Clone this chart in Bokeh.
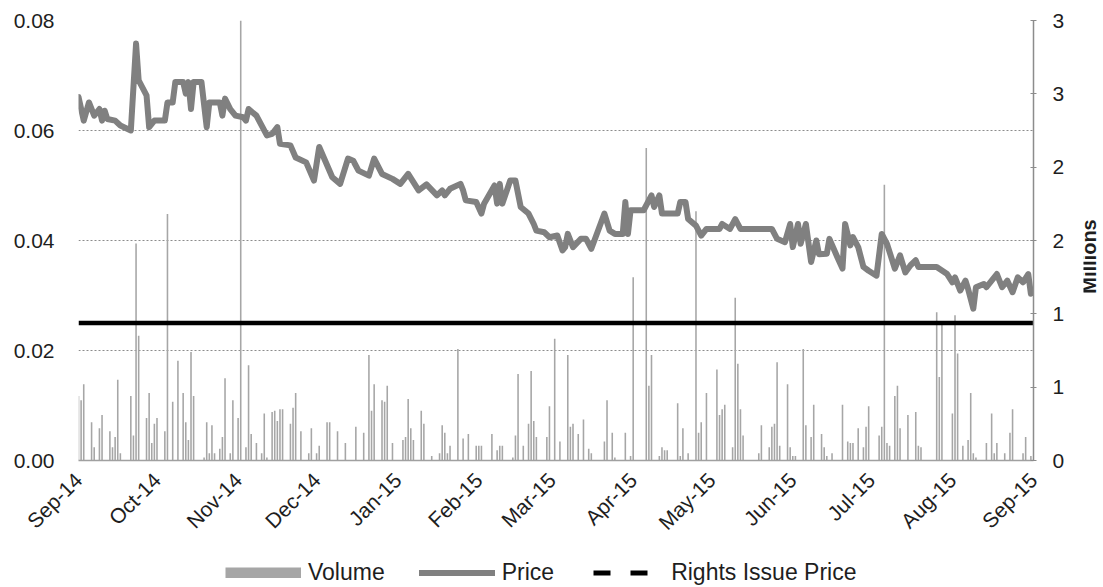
import math
import pandas as pd
from bokeh.plotting import figure
from bokeh.layouts import column, row
from bokeh.models import (Range1d, LinearAxis, FixedTicker, NumeralTickFormatter, Legend,
                          LegendItem, MonthsTicker, DatetimeTickFormatter, ColumnDataSource, Label)
from bokeh.embed import file_html
from bokeh.resources import INLINE

# ---------------- data ----------------
price_dates = [
    "2014-09-01", "2014-09-03", "2014-09-05", "2014-09-07", "2014-09-09", "2014-09-10", "2014-09-11",
    "2014-09-12", "2014-09-15", "2014-09-17", "2014-09-21", "2014-09-23", "2014-09-24", "2014-09-27",
    "2014-09-28", "2014-09-30", "2014-10-04", "2014-10-05", "2014-10-07", "2014-10-08", "2014-10-11",
    "2014-10-12", "2014-10-13", "2014-10-14", "2014-10-15", "2014-10-18", "2014-10-20", "2014-10-21",
    "2014-10-25", "2014-10-26", "2014-10-27", "2014-10-29", "2014-10-31", "2014-11-03", "2014-11-04",
    "2014-11-05", "2014-11-08", "2014-11-12", "2014-11-14", "2014-11-16", "2014-11-17", "2014-11-21",
    "2014-11-23", "2014-11-27", "2014-11-30", "2014-12-02", "2014-12-07", "2014-12-10", "2014-12-13",
    "2014-12-15", "2014-12-17", "2014-12-21", "2014-12-23", "2014-12-26", "2014-12-30", "2015-01-02",
    "2015-01-05", "2015-01-09", "2015-01-12", "2015-01-16", "2015-01-18", "2015-01-19", "2015-01-21",
    "2015-01-25", "2015-01-26", "2015-01-27", "2015-01-31", "2015-02-02", "2015-02-03", "2015-02-07",
    "2015-02-08", "2015-02-09", "2015-02-10", "2015-02-13", "2015-02-15", "2015-02-17", "2015-02-20",
    "2015-02-22", "2015-02-23", "2015-02-26", "2015-02-28", "2015-03-03", "2015-03-05", "2015-03-06",
    "2015-03-07", "2015-03-09", "2015-03-12", "2015-03-14", "2015-03-16", "2015-03-21", "2015-03-23",
    "2015-03-25", "2015-03-28", "2015-03-29", "2015-03-30", "2015-03-31", "2015-04-05", "2015-04-08",
    "2015-04-09", "2015-04-11", "2015-04-12", "2015-04-18", "2015-04-19", "2015-04-21", "2015-04-22",
    "2015-04-25", "2015-04-27", "2015-04-29", "2015-05-04", "2015-05-05", "2015-05-08", "2015-05-10",
    "2015-05-12", "2015-05-24", "2015-05-26", "2015-05-29", "2015-05-31", "2015-06-01", "2015-06-03",
    "2015-06-04", "2015-06-06", "2015-06-08", "2015-06-10", "2015-06-11", "2015-06-14", "2015-06-15",
    "2015-06-18", "2015-06-20", "2015-06-21", "2015-06-23", "2015-06-24", "2015-06-26", "2015-06-28",
    "2015-06-30", "2015-07-03", "2015-07-05", "2015-07-07", "2015-07-10", "2015-07-12", "2015-07-14",
    "2015-07-16", "2015-07-18", "2015-07-19", "2015-07-26", "2015-07-30", "2015-08-01", "2015-08-02",
    "2015-08-04", "2015-08-06", "2015-08-07", "2015-08-09", "2015-08-10", "2015-08-13", "2015-08-14",
    "2015-08-16", "2015-08-18", "2015-08-20", "2015-08-22", "2015-08-24", "2015-08-26", "2015-08-28",
    "2015-08-30", "2015-08-31",
]
price_values = [
    0.0661, 0.0618, 0.0651, 0.0627, 0.0639, 0.0618, 0.0636,
    0.0621, 0.0618, 0.0609, 0.0600, 0.0758, 0.0691, 0.0664,
    0.0606, 0.0618, 0.0618, 0.0651, 0.0651, 0.0688, 0.0688,
    0.0667, 0.0688, 0.0639, 0.0688, 0.0688, 0.0606, 0.0651,
    0.0651, 0.0627, 0.0658, 0.0639, 0.0627, 0.0624, 0.0618,
    0.0639, 0.0627, 0.0591, 0.0594, 0.0606, 0.0576, 0.0573,
    0.0551, 0.0542, 0.0509, 0.0570, 0.0515, 0.0503, 0.0549,
    0.0545, 0.0527, 0.0518, 0.0549, 0.0521, 0.0512, 0.0503,
    0.0521, 0.0491, 0.0502, 0.0482, 0.0491, 0.0482, 0.0494,
    0.0503, 0.0491, 0.0473, 0.0470, 0.0449, 0.0467, 0.0500,
    0.0467, 0.0503, 0.0467, 0.0509, 0.0509, 0.0461, 0.0449,
    0.0430, 0.0418, 0.0415, 0.0406, 0.0409, 0.0382, 0.0388,
    0.0412, 0.0388, 0.0403, 0.0403, 0.0385, 0.0449, 0.0418,
    0.0412, 0.0412, 0.0470, 0.0412, 0.0455, 0.0455, 0.0482,
    0.0461, 0.0482, 0.0449, 0.0449, 0.0470, 0.0470, 0.0439,
    0.0427, 0.0409, 0.0421, 0.0421, 0.0430, 0.0421, 0.0439,
    0.0421, 0.0421, 0.0403, 0.0397, 0.0430, 0.0388, 0.0430,
    0.0394, 0.0430, 0.0361, 0.0400, 0.0375, 0.0376, 0.0403,
    0.0370, 0.0349, 0.0430, 0.0391, 0.0406, 0.0388, 0.0352,
    0.0345, 0.0336, 0.0412, 0.0394, 0.0349, 0.0373, 0.0342,
    0.0355, 0.0364, 0.0352, 0.0352, 0.0339, 0.0324, 0.0333,
    0.0309, 0.0327, 0.0312, 0.0276, 0.0315, 0.0321, 0.0315,
    0.0327, 0.0339, 0.0315, 0.0327, 0.0306, 0.0333, 0.0324,
    0.0339, 0.0303,
]

volume_dates = [
    "2014-09-01", "2014-09-02", "2014-09-03", "2014-09-06", "2014-09-07", "2014-09-09", "2014-09-10",
    "2014-09-13", "2014-09-14", "2014-09-15", "2014-09-16", "2014-09-17", "2014-09-21", "2014-09-22",
    "2014-09-23", "2014-09-24", "2014-09-27", "2014-09-28", "2014-09-29", "2014-09-30", "2014-10-01",
    "2014-10-04", "2014-10-05", "2014-10-07", "2014-10-09", "2014-10-11", "2014-10-12", "2014-10-13",
    "2014-10-14", "2014-10-15", "2014-10-19", "2014-10-20", "2014-10-21", "2014-10-22", "2014-10-23",
    "2014-10-25", "2014-10-26", "2014-10-27", "2014-10-29", "2014-10-30", "2014-11-01", "2014-11-02",
    "2014-11-04", "2014-11-05", "2014-11-06", "2014-11-08", "2014-11-10", "2014-11-11", "2014-11-12",
    "2014-11-14", "2014-11-15", "2014-11-16", "2014-11-17", "2014-11-18", "2014-11-21", "2014-11-22",
    "2014-11-23", "2014-11-25", "2014-11-28", "2014-11-29", "2014-12-01", "2014-12-02", "2014-12-05",
    "2014-12-06", "2014-12-09", "2014-12-12", "2014-12-16", "2014-12-19", "2014-12-21", "2014-12-22",
    "2014-12-23", "2014-12-26", "2014-12-27", "2014-12-28", "2014-12-30", "2015-01-03", "2015-01-04",
    "2015-01-05", "2015-01-06", "2015-01-07", "2015-01-10", "2015-01-11", "2015-01-14", "2015-01-17",
    "2015-01-18", "2015-01-19", "2015-01-20", "2015-01-21", "2015-01-24", "2015-01-26", "2015-01-28",
    "2015-01-31", "2015-02-01", "2015-02-02", "2015-02-06", "2015-02-08", "2015-02-09", "2015-02-10",
    "2015-02-14", "2015-02-15", "2015-02-16", "2015-02-18", "2015-02-20", "2015-02-21", "2015-02-22",
    "2015-02-23", "2015-02-27", "2015-02-28", "2015-03-02", "2015-03-04", "2015-03-07", "2015-03-08",
    "2015-03-09", "2015-03-11", "2015-03-13", "2015-03-15", "2015-03-16", "2015-03-21", "2015-03-22",
    "2015-03-24", "2015-03-25", "2015-03-29", "2015-03-31", "2015-04-01", "2015-04-06", "2015-04-07",
    "2015-04-08", "2015-04-11", "2015-04-12", "2015-04-13", "2015-04-14", "2015-04-18", "2015-04-19",
    "2015-04-20", "2015-04-22", "2015-04-25", "2015-04-26", "2015-04-27", "2015-04-29", "2015-05-03",
    "2015-05-04", "2015-05-05", "2015-05-06", "2015-05-09", "2015-05-10", "2015-05-11", "2015-05-12",
    "2015-05-13", "2015-05-19", "2015-05-20", "2015-05-23", "2015-05-24", "2015-05-25", "2015-05-26",
    "2015-05-27", "2015-05-30", "2015-05-31", "2015-06-01", "2015-06-02", "2015-06-05", "2015-06-06",
    "2015-06-08", "2015-06-09", "2015-06-12", "2015-06-13", "2015-06-14", "2015-06-16", "2015-06-20",
    "2015-06-22", "2015-06-23", "2015-06-24", "2015-06-26", "2015-06-28", "2015-06-29", "2015-06-30",
    "2015-07-04", "2015-07-05", "2015-07-06", "2015-07-07", "2015-07-08", "2015-07-10", "2015-07-11",
    "2015-07-12", "2015-07-15", "2015-07-18", "2015-07-19", "2015-07-20", "2015-07-26", "2015-07-27",
    "2015-07-28", "2015-08-01", "2015-08-02", "2015-08-03", "2015-08-05", "2015-08-07", "2015-08-08",
    "2015-08-09", "2015-08-10", "2015-08-14", "2015-08-16", "2015-08-17", "2015-08-18", "2015-08-21",
    "2015-08-23", "2015-08-24", "2015-08-28", "2015-08-29", "2015-08-31",
]
volume_millions = [
    0.44, 0.41, 0.52, 0.26, 0.09, 0.22, 0.31,
    0.20, 0.09, 0.16, 0.55, 0.05, 0.44, 0.17,
    1.48, 0.85, 0.29, 0.46, 0.12, 0.25, 0.29,
    0.20, 1.68, 0.40, 0.68, 0.46, 0.26, 0.14,
    0.74, 0.44, 0.02, 0.26, 0.05, 0.24, 0.05,
    0.08, 0.16, 0.56, 0.05, 0.41, 0.29, 3.40,
    0.09, 0.65, 0.18, 0.12, 0.05, 0.32, 0.02,
    0.33, 0.34, 0.27, 0.35, 0.35, 0.25, 0.36,
    0.46, 0.20, 0.05, 0.22, 0.05, 0.10, 0.26,
    0.26, 0.20, 0.12, 0.23, 0.19, 0.72, 0.34,
    0.52, 0.41, 0.40, 0.51, 0.12, 0.14, 0.16,
    0.42, 0.22, 0.14, 0.34, 0.25, 0.03, 0.05,
    0.24, 0.19, 0.05, 0.10, 0.76, 0.15, 0.18,
    0.10, 0.10, 0.10, 0.18, 0.07, 0.10, 0.10,
    0.02, 0.17, 0.59, 0.10, 0.25, 0.61, 0.27,
    0.16, 0.16, 0.37, 0.83, 0.13, 0.72, 0.23,
    0.25, 0.18, 0.28, 0.08, 0.05, 0.13, 0.41,
    0.19, 0.02, 0.19, 0.03, 1.25, 2.13, 0.51,
    0.72, 0.03, 0.09, 0.07, 0.07, 0.39, 0.03,
    0.22, 0.05, 1.70, 0.19, 0.26, 0.46, 0.62,
    0.31, 0.35, 0.38, 0.09, 1.11, 0.66, 0.35,
    0.17, 0.05, 0.24, 0.09, 0.23, 0.25, 0.67,
    0.10, 0.52, 0.09, 0.03, 0.03, 0.76, 0.24,
    0.16, 0.38, 0.18, 0.09, 0.03, 0.05, 0.38,
    0.13, 0.12, 0.12, 0.22, 0.09, 0.23, 0.37,
    0.17, 0.23, 1.88, 0.12, 0.10, 0.44, 0.51,
    0.22, 0.31, 0.33, 0.10, 0.09, 1.01, 0.57,
    0.93, 0.32, 0.99, 0.73, 0.10, 0.14, 0.46,
    0.05, 0.02, 0.12, 0.32, 0.05, 0.12, 0.05,
    0.19, 0.35, 0.05, 0.16, 0.03,
]

rights_dates = ["2014-09-01", "2015-09-01"]
rights_price = [0.025, 0.025]

x_start, x_end = "2014-09-01", "2015-09-01"
price_ticks = [0.0, 0.02, 0.04, 0.06, 0.08]
volume_ticks = [0.0, 0.5, 1.0, 1.5, 2.0, 2.5, 3.0]
volume_tick_labels = ["0", "1", "1", "2", "2", "3", "3"]
volume_axis_title = "Millions"

legend_labels = ["Volume", "Price", "Rights Issue Price"]

# ---------------- styling ----------------
FONT = "Liberation Sans"
TXT = "#1e1e1e"
PRICE_C = "#808080"
VOL_C = "#a6a6a6"

price_src = ColumnDataSource(dict(date=pd.to_datetime(price_dates), price=price_values))
vol_src = ColumnDataSource(dict(date=pd.to_datetime(volume_dates), vol=volume_millions))
rights_src = ColumnDataSource(dict(date=pd.to_datetime(rights_dates), price=rights_price))

x_rng = Range1d(pd.Timestamp(x_start), pd.Timestamp(x_end))

p = figure(width=1083, height=547, x_axis_type="datetime",
           x_range=x_rng,
           y_range=Range1d(price_ticks[0], price_ticks[-1]),
           output_backend="svg", toolbar_location=None,
           min_border_left=78, min_border_right=50, min_border_top=20, min_border_bottom=87)
p.outline_line_color = None
p.background_fill_color = "white"

p.extra_y_ranges = {"vol": Range1d(volume_ticks[0], volume_ticks[-1])}

# volume bars (right axis)
day_ms = 24 * 3600 * 1000
p.vbar(x="date", top="vol", bottom=0, width=0.6 * day_ms, source=vol_src,
       y_range_name="vol", fill_color=VOL_C, line_color=None)

# rights issue price line
p.line(x="date", y="price", source=rights_src, line_color="black", line_width=4.5)

# price line
p.line(x="date", y="price", source=price_src, line_color=PRICE_C, line_width=6,
       line_join="round", line_cap="round")

# left axis
p.yaxis.ticker = FixedTicker(ticks=price_ticks)
p.yaxis.formatter = NumeralTickFormatter(format="0.00")
p.yaxis.axis_line_color = None
p.yaxis.major_tick_line_color = None
p.yaxis.minor_tick_line_color = None
p.yaxis.major_label_standoff = 18
p.yaxis.major_label_text_font = FONT
p.yaxis.major_label_text_font_size = "21px"
p.yaxis.major_label_text_color = TXT

# grid
p.xgrid.grid_line_color = None
p.ygrid.grid_line_color = "#8c8c8c"
p.ygrid.grid_line_dash = "2 2"
p.ygrid.grid_line_width = 1

# x axis
p.xaxis.ticker = MonthsTicker(months=list(range(12)))
p.xaxis.formatter = DatetimeTickFormatter(years="%b-%y", months="%b-%y", days="%b-%y",
                                          hours="%b-%y", minutes="%b-%y")
p.xaxis.major_label_orientation = math.pi / 4
p.xaxis.axis_line_color = "#a0a0a0"
p.xaxis.axis_line_width = 1.5
p.xaxis.major_tick_line_color = None
p.xaxis.minor_tick_line_color = None
p.xaxis.major_tick_out = 0
p.xaxis.major_label_standoff = 16
p.xaxis.major_label_text_font = FONT
p.xaxis.major_label_text_font_size = "21px"
p.xaxis.major_label_text_color = TXT

# right axis (volume, millions)
right = LinearAxis(y_range_name="vol", ticker=FixedTicker(ticks=volume_ticks))
right.major_label_overrides = {t: l for t, l in zip(volume_ticks, volume_tick_labels)}
right.axis_line_color = "#8c8c8c"
right.axis_line_width = 1.5
right.major_tick_line_color = "#8c8c8c"
right.major_tick_in = 3
right.major_tick_out = 3
right.minor_tick_line_color = None
right.major_label_standoff = 16
right.major_label_text_font = FONT
right.major_label_text_font_size = "21px"
right.major_label_text_color = TXT
p.add_layout(right, "right")

# ---------------- right-hand axis title strip ----------------
mfig = figure(width=20, height=547, x_range=Range1d(0, 1), y_range=Range1d(0, 1),
              output_backend="svg", toolbar_location=None,
              x_axis_location=None, y_axis_location=None,
              min_border_left=0, min_border_right=0, min_border_top=0, min_border_bottom=0)
mfig.outline_line_color = None
mfig.xgrid.grid_line_color = None
mfig.ygrid.grid_line_color = None
mfig.add_layout(Label(x=5, y=204, x_units="screen", y_units="screen", text=volume_axis_title,
                      angle=math.pi / 2, text_align="center", text_baseline="middle",
                      text_font=FONT, text_font_size="20px", text_font_style="bold",
                      text_color=TXT))

# ---------------- legend strip (same data, drawn out of view) ----------------
leg = figure(width=1103, height=40, x_range=x_rng, y_range=Range1d(100, 101),
             x_axis_type="datetime", output_backend="svg", toolbar_location=None,
             x_axis_location=None, y_axis_location=None,
             min_border_left=0, min_border_right=0, min_border_top=0, min_border_bottom=0)
leg.outline_line_color = None
leg.xgrid.grid_line_color = None
leg.ygrid.grid_line_color = None
vol_sw = leg.line(x="date", y="vol", source=vol_src, line_color=VOL_C, line_width=11,
                  line_cap="butt")
price_sw = leg.line(x="date", y="price", source=price_src, line_color=PRICE_C, line_width=6,
                    line_cap="round")
rights_sw = leg.line(x="date", y="price", source=rights_src, line_color="black", line_width=5,
                     line_dash="17 20", line_dash_offset=32)

legend = Legend(items=[LegendItem(label=legend_labels[0], renderers=[vol_sw]),
                       LegendItem(label=legend_labels[1], renderers=[price_sw]),
                       LegendItem(label=legend_labels[2], renderers=[rights_sw])],
                orientation="horizontal", location=(225, 1),
                glyph_width=76, glyph_height=11, label_standoff=7, spacing=34,
                padding=0, margin=0, border_line_color=None, background_fill_alpha=0,
                label_text_font=FONT, label_text_font_size="23px", label_text_color=TXT)
leg.add_layout(legend, "center")

layout = column(row(p, mfig, spacing=0), leg, spacing=0)
open("out.html", "w").write(file_html(layout, INLINE))
